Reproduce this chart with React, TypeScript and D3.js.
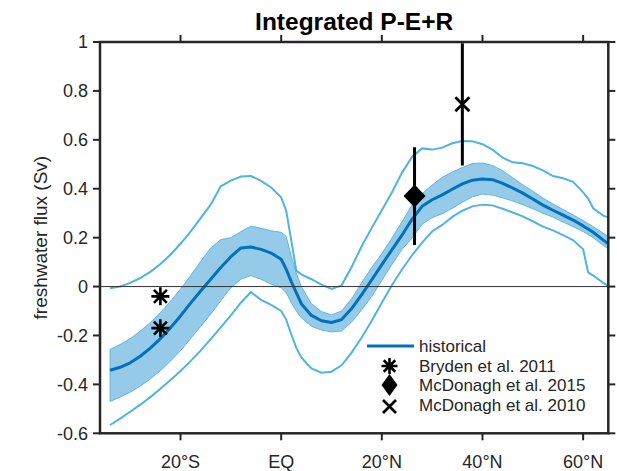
import React from "react";
import * as d3 from "d3";

const lat = [-34,-32,-30,-28,-26,-24,-22,-20,-18,-16,-14,-12,-10,-8,-6,-4,-2,0,1,2,3,4,6,8,10,12,14,16,18,20,22,24,26,28,30,32,34,36,38,40,42,44,46,48,50,52,54,56,58,60,61,62,64,65];

const meanVal = [-0.342,-0.33,-0.312,-0.285,-0.252,-0.213,-0.168,-0.12,-0.068,-0.018,0.03,0.078,0.122,0.158,0.162,0.152,0.137,0.112,0.07,0.02,-0.025,-0.07,-0.118,-0.14,-0.147,-0.135,-0.09,-0.033,0.028,0.09,0.15,0.21,0.275,0.328,0.355,0.375,0.398,0.42,0.435,0.44,0.437,0.422,0.403,0.382,0.358,0.333,0.312,0.292,0.272,0.248,0.235,0.222,0.19,0.175];

const bandUpper = [-0.257,-0.237,-0.213,-0.182,-0.147,-0.107,-0.06,-0.01,0.045,0.103,0.158,0.192,0.2,0.225,0.247,0.238,0.228,0.222,0.205,0.125,0.055,0.0,-0.07,-0.102,-0.116,-0.1,-0.05,0.016,0.078,0.135,0.198,0.265,0.333,0.38,0.415,0.447,0.468,0.487,0.503,0.505,0.495,0.474,0.445,0.416,0.39,0.362,0.338,0.315,0.293,0.27,0.257,0.245,0.218,0.205];

const bandLower = [-0.47,-0.452,-0.432,-0.407,-0.378,-0.344,-0.305,-0.262,-0.213,-0.163,-0.113,-0.058,-0.005,0.03,0.045,0.03,0.01,-0.005,-0.025,-0.065,-0.1,-0.128,-0.162,-0.178,-0.185,-0.182,-0.145,-0.095,-0.04,0.025,0.09,0.152,0.198,0.255,0.282,0.298,0.32,0.345,0.367,0.378,0.374,0.363,0.35,0.335,0.318,0.3,0.284,0.264,0.245,0.225,0.212,0.2,0.168,0.155];

const outerUpper = [-0.007,0.0,0.015,0.035,0.06,0.092,0.13,0.175,0.225,0.28,0.335,0.41,0.433,0.45,0.452,0.432,0.405,0.365,0.31,0.19,0.065,0.05,0.03,0.008,-0.01,0.005,0.08,0.165,0.24,0.312,0.385,0.465,0.53,0.565,0.56,0.568,0.586,0.595,0.594,0.582,0.56,0.527,0.508,0.504,0.493,0.475,0.452,0.443,0.428,0.385,0.36,0.32,0.29,0.283];

const outerLower = [-0.566,-0.54,-0.512,-0.483,-0.452,-0.418,-0.382,-0.345,-0.305,-0.262,-0.215,-0.167,-0.118,-0.066,-0.022,-0.055,-0.075,-0.1,-0.135,-0.195,-0.25,-0.29,-0.335,-0.352,-0.348,-0.322,-0.27,-0.208,-0.14,-0.066,0.005,0.07,0.128,0.18,0.225,0.252,0.285,0.31,0.328,0.335,0.332,0.318,0.303,0.287,0.267,0.245,0.23,0.21,0.19,0.152,0.058,0.045,0.015,0.003];

const brydenLat = [-24, -24];
const brydenVal = [-0.04, -0.17];
const mcd2015Lat = [26.5];
const mcd2015Val = [0.37];
const mcd2015Err = [0.2];
const mcd2010Lat = [36];
const mcd2010Val = [0.745];
const mcd2010Err = [0.25];

const xTicks = [-20, 0, 20, 40, 60];
const xTickLabels = ["20°S", "EQ", "20°N", "40°N", "60°N"];
const yTicks = [-0.6, -0.4, -0.2, 0, 0.2, 0.4, 0.6, 0.8, 1];
const legendLabels = ["historical", "Bryden et al. 2011", "McDonagh et al. 2015", "McDonagh et al. 2010"];

const W = 617, H = 471;
const L = 100, R = 608.3, T = 42, B = 433.3;
const FONT = "'Liberation Sans', Arial, Helvetica, sans-serif";
const AX = "#262626";

function asteriskPath(cx: number, cy: number, r: number) {
  const d = r * 0.72;
  return `M${cx - r},${cy}H${cx + r}M${cx},${cy - r}V${cy + r}M${cx - d},${cy - d}L${cx + d},${cy + d}M${cx - d},${cy + d}L${cx + d},${cy - d}`;
}
function crossPath(cx: number, cy: number, r: number) {
  return `M${cx - r},${cy - r}L${cx + r},${cy + r}M${cx - r},${cy + r}L${cx + r},${cy - r}`;
}
function diamondPath(cx: number, cy: number, rx: number, ry: number) {
  return `M${cx},${cy - ry}L${cx + rx},${cy}L${cx},${cy + ry}L${cx - rx},${cy}Z`;
}

export default function App() {
  const x = d3.scaleLinear().domain([-36, 65]).range([L, R]);
  const y = d3.scaleLinear().domain([-0.6, 1]).range([B, T]);
  const idx = lat.map((_, i) => i);

  const area = d3.area<number>().x(i => x(lat[i])).y0(i => y(bandLower[i])).y1(i => y(bandUpper[i]));
  const line = (vals: number[]) => d3.line<number>().x(i => x(lat[i])).y(i => y(vals[i]))(idx) || "";

  return (
    <svg width={W} height={H} style={{ position: "fixed", left: 0, top: 0, background: "#fff" }} fontFamily={FONT}>
      <rect x={0} y={0} width={W} height={H} fill="#fff" />
      <defs>
        <clipPath id="plot"><rect x={L} y={T} width={R - L} height={B - T} /></clipPath>
      </defs>
      <g clipPath="url(#plot)">
        <path d={area(idx) || ""} fill="#95CAE8" stroke="#62B6E2" strokeWidth={1} />
        <path d={line(outerUpper)} fill="none" stroke="#4FB4E4" strokeWidth={2} />
        <path d={line(outerLower)} fill="none" stroke="#4FB4E4" strokeWidth={2} />
        <path d={line(meanVal)} fill="none" stroke="#0072BD" strokeWidth={3} strokeLinejoin="round" />
        <line x1={L} x2={R} y1={y(0)} y2={y(0)} stroke="#333" strokeWidth={1} />
        {brydenLat.map((la, i) => (
          <path key={"b" + i} d={asteriskPath(x(la), y(brydenVal[i]), 9)} stroke="#000" strokeWidth={2.6} fill="none" />
        ))}
        {mcd2015Lat.map((la, i) => (
          <g key={"m15" + i}>
            <line x1={x(la)} x2={x(la)} y1={y(mcd2015Val[i] - mcd2015Err[i])} y2={y(mcd2015Val[i] + mcd2015Err[i])} stroke="#000" strokeWidth={3} />
            <path d={diamondPath(x(la), y(mcd2015Val[i]), 11, 11.5)} fill="#000" />
          </g>
        ))}
        {mcd2010Lat.map((la, i) => (
          <g key={"m10" + i}>
            <line x1={x(la)} x2={x(la)} y1={y(mcd2010Val[i] - mcd2010Err[i])} y2={y(mcd2010Val[i] + mcd2010Err[i])} stroke="#000" strokeWidth={3} />
            <path d={crossPath(x(la), y(mcd2010Val[i]), 7)} stroke="#000" strokeWidth={2.8} fill="none" />
          </g>
        ))}
      </g>

      {/* axes box */}
      <rect x={L} y={T} width={R - L} height={B - T} fill="none" stroke={AX} strokeWidth={2.5} />
      {yTicks.map(t => (
        <g key={"y" + t}>
          <line x1={L - 7} x2={L} y1={y(t)} y2={y(t)} stroke={AX} strokeWidth={2} />
          <line x1={R} x2={R + 7} y1={y(t)} y2={y(t)} stroke={AX} strokeWidth={2} />
          <text x={L - 12} y={y(t)} dy="0.35em" textAnchor="end" fontSize={18} fill={AX}>{String(t)}</text>
        </g>
      ))}
      {xTicks.map((t, i) => (
        <g key={"x" + t}>
          <line x1={x(t)} x2={x(t)} y1={B} y2={B + 7} stroke={AX} strokeWidth={2} />
          <line x1={x(t)} x2={x(t)} y1={T - 7} y2={T} stroke={AX} strokeWidth={2} />
          <text x={x(t)} y={468} textAnchor="middle" fontSize={18} fill={AX}>{xTickLabels[i]}</text>
        </g>
      ))}

      <text x={(L + R) / 2} y={30} textAnchor="middle" fontSize={24.5} fontWeight="bold" fill="#000">Integrated P-E+R</text>
      <text transform={`translate(47, ${(T + B) / 2}) rotate(-90)`} textAnchor="middle" fontSize={19} fill={AX}>freshwater flux (Sv)</text>

      {/* legend */}
      <g>
        <line x1={367} x2={414} y1={346} y2={346} stroke="#0072BD" strokeWidth={3} />
        <path d={asteriskPath(389.5, 366, 8)} stroke="#000" strokeWidth={2.6} fill="none" />
        <path d={diamondPath(389.5, 385, 8, 11)} fill="#000" />
        <path d={crossPath(389.5, 406.5, 6.5)} stroke="#000" strokeWidth={2.8} fill="none" />
        {legendLabels.map((s, i) => (
          <text key={s} x={419} y={352 + i * 19.7} fontSize={17} fill={AX}>{s}</text>
        ))}
      </g>
    </svg>
  );
}
